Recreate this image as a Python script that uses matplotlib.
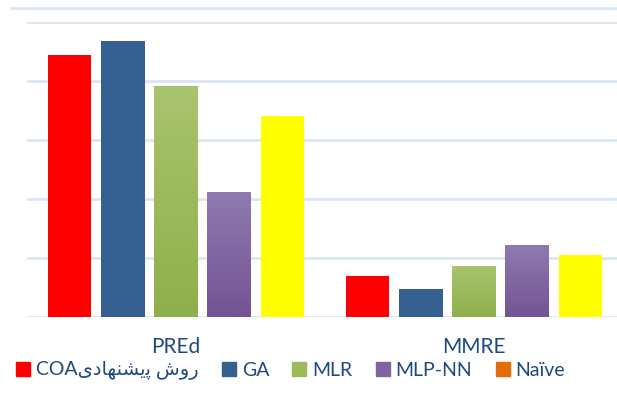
import numpy as np
import matplotlib.pyplot as plt
from matplotlib.patches import Patch
from matplotlib.lines import Line2D
from matplotlib.colors import LinearSegmentedColormap

plt.rcParams['font.family'] = ['Lato', 'DejaVu Sans']

# Persian "روش پیشنهادی" written in visual order with presentation forms
persian = '\uFBFC\uFEA9\uFE8E\uFEEC\uFEE8\uFEB8\uFBFE\uFB58 \uFEB5\uFEED\uFEAD'

categories = ['PREd', 'MMRE']
series = ['COA' + persian, 'GA', 'MLR', 'MLP-NN', 'Naïve']
pred = [44.5, 46.9, 39.0, 21.1, 34.1]
mmre = [7.0, 4.75, 8.5, 12.1, 10.6]

bar_colors = ['#FF0000', '#376092', '#9BBB59', '#8064A2', '#FFFF00']
legend_colors = ['#FF0000', '#376092', '#9BBB59', '#8064A2', '#E46C0A']
gradients = {2: ('#A9C46E', '#8EB04A'), 3: ('#8F7AB0', '#745494')}
grid_color = '#DCE6F2'
text_color = '#1F497D'

fig = plt.figure(figsize=(6.17, 4.03), dpi=100)
ax = fig.add_axes([27 / 617, 1 - 317.3 / 403, 596 / 617, 295 / 403])

x = np.arange(len(categories))
pitch = 0.1787
width = 0.146
for i, name in enumerate(series):
    vals = [pred[i], mmre[i]]
    bars = ax.bar(x + (i - 2) * pitch, vals, width, color=bar_colors[i], zorder=3)
    if i in gradients:
        cmap = LinearSegmentedColormap.from_list('g', [gradients[i][1], gradients[i][0]])
        grad = np.linspace(0, 1, 100).reshape(-1, 1)
        for b in bars:
            x0, h = b.get_x(), b.get_height()
            ax.imshow(grad, cmap=cmap, origin='lower', aspect='auto',
                      extent=(x0, x0 + b.get_width(), 0, h), zorder=4)

ax.set_xlim(-0.5, 1.5)
ax.set_ylim(0, 50)
ax.set_yticks(np.arange(0, 51, 10))
ax.yaxis.grid(True, color=grid_color, linewidth=2)
ax.set_axisbelow(True)
ax.tick_params(left=False, labelleft=False, bottom=False, labelbottom=False)
for s in ax.spines.values():
    s.set_visible(False)

for xi, cat in zip(x, categories):
    ax.text(xi, -0.1, cat, transform=ax.get_xaxis_transform(), ha='center', va='center',
            fontsize=15, color=text_color)

fig.add_artist(Line2D([11 / 617, 1], [1 - 7.5 / 403] * 2, color=grid_color, linewidth=2))

handles = [Patch(color=c) for c in legend_colors]
fig.legend(handles, series, loc='center left', bbox_to_anchor=(16 / 617, 1 - 371 / 403),
           ncol=5, frameon=False, fontsize=14, labelcolor=text_color,
           handlelength=0.72, handleheight=0.72, handletextpad=0.3, columnspacing=1.2,
           borderpad=0, borderaxespad=0)

fig.savefig('out.png', dpi=100)
